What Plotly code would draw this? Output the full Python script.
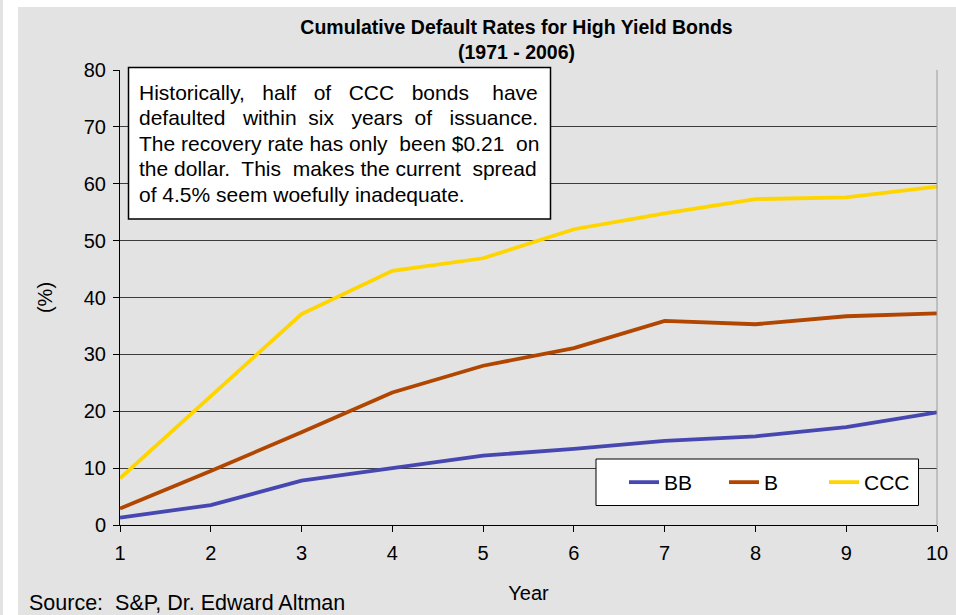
import plotly.graph_objects as go

years = [1, 2, 3, 4, 5, 6, 7, 8, 9, 10]
bb = [1.3, 3.5, 7.8, 10.0, 12.2, 13.4, 14.8, 15.6, 17.2, 19.8]
b = [2.9, 9.5, 16.3, 23.3, 28.0, 31.1, 35.9, 35.3, 36.7, 37.2]
ccc = [8.2, 22.6, 37.1, 44.7, 46.9, 52.0, 54.8, 57.3, 57.6, 59.5]

series_names = ["BB", "B", "CCC"]
series_colors = ["#4747B2", "#B04600", "#FFD500"]
y_ticks = [0, 10, 20, 30, 40, 50, 60, 70, 80]

FONT = "Liberation Sans, Arial, sans-serif"
BG = "#e3e3e3"

W, H = 956, 615
L, R, T, B = 120, 19, 70, 90
PW, PH = W - L - R, H - T - B


def px(xp):
    return (xp - L) / PW


def py(yp):
    return (H - B - yp) / PH


fig = go.Figure()
for name, vals, col in zip(series_names, [bb, b, ccc], series_colors):
    fig.add_trace(go.Scatter(x=years, y=vals, name=name, mode="lines",
                             line=dict(color=col, width=3.8)))

nb = "\u00a0"
box_lines = [
    f"Historically,{nb*2} half{nb*2} of{nb*2} CCC{nb*2} bonds{nb*3} have",
    f"defaulted{nb*2} within{nb} six{nb*2} years{nb} of{nb*2} issuance.",
    f"The recovery rate has only{nb} been $0.21{nb} on",
    f"the dollar.{nb} This{nb} makes the current{nb} spread",
    "of 4.5% seem woefully inadequate.",
]
line_centers = [92.3, 117.8, 143.3, 168.8, 194.5]

shapes = [
    # white strips of the page
    dict(type="rect", xref="paper", yref="paper", x0=px(3), x1=px(18), y0=py(H), y1=py(0),
         fillcolor="white", line=dict(width=0), layer="below"),
    dict(type="rect", xref="paper", yref="paper", x0=px(3), x1=px(W), y0=py(7), y1=py(0),
         fillcolor="white", line=dict(width=0), layer="below"),
    # right plot border
    dict(type="line", xref="paper", yref="paper", x0=1, x1=1, y0=0, y1=1,
         line=dict(color="#9a9a9a", width=1)),
    # text box
    dict(type="rect", xref="paper", yref="paper", x0=px(128.5), x1=px(550.5), y0=py(219), y1=py(67.5),
         fillcolor="white", line=dict(color="black", width=1.5), layer="above"),
    # legend box
    dict(type="rect", xref="paper", yref="paper", x0=px(596), x1=px(918.5), y0=py(505.5), y1=py(459),
         fillcolor="white", line=dict(color="black", width=1), layer="above"),
]

annotations = [
    dict(text=t, xref="paper", yref="paper", x=px(136.5), y=py(yc),
         xanchor="left", yanchor="middle", align="left", showarrow=False,
         font=dict(family=FONT, size=21, color="black"))
    for t, yc in zip(box_lines, line_centers)
]
annotations.append(
    dict(text="Source:  S&P, Dr. Edward Altman", xref="paper", yref="paper", x=px(26.5), y=py(603),
         xanchor="left", yanchor="middle", showarrow=False,
         font=dict(family=FONT, size=21.5, color="black")))

fig.update_layout(
    width=W, height=H,
    margin=dict(l=L, r=R, t=T, b=B, autoexpand=False),
    paper_bgcolor=BG, plot_bgcolor=BG,
    title=dict(text="<b>Cumulative Default Rates for High Yield Bonds<br>(1971 - 2006)</b>",
               x=516.5 / W, xref="container", xanchor="center",
               y=1 - 33.5 / H, yref="container", yanchor="middle",
               font=dict(family=FONT, size=19.5, color="black")),
    font=dict(family=FONT, size=20, color="black"),
    xaxis=dict(range=[1, 10], tickvals=years, showgrid=False, zeroline=False,
               showline=True, linecolor="black", linewidth=1,
               ticks="outside", ticklen=6, tickcolor="black", ticklabelstandoff=4,
               tickfont=dict(family=FONT, size=20, color="black"),
               title=dict(text="Year", standoff=22, font=dict(family=FONT, size=20))),
    yaxis=dict(range=[0, 80], tickvals=y_ticks, showgrid=True, gridcolor="#3c3c3c", gridwidth=1,
               zeroline=False, showline=True, linecolor="black", linewidth=1,
               ticks="outside", ticklen=6, tickcolor="black", ticklabelstandoff=3,
               tickfont=dict(family=FONT, size=20, color="black"),
               title=dict(text="(%)", standoff=25, font=dict(family=FONT, size=20))),
    legend=dict(orientation="h", x=px(624), y=py(482.5), xanchor="left", yanchor="middle",
                bgcolor="rgba(0,0,0,0)", borderwidth=0,
                entrywidth=55, entrywidthmode="pixels",
                font=dict(family=FONT, size=21, color="black")),
    shapes=shapes,
    annotations=annotations,
)

fig.write_html("out.html")
